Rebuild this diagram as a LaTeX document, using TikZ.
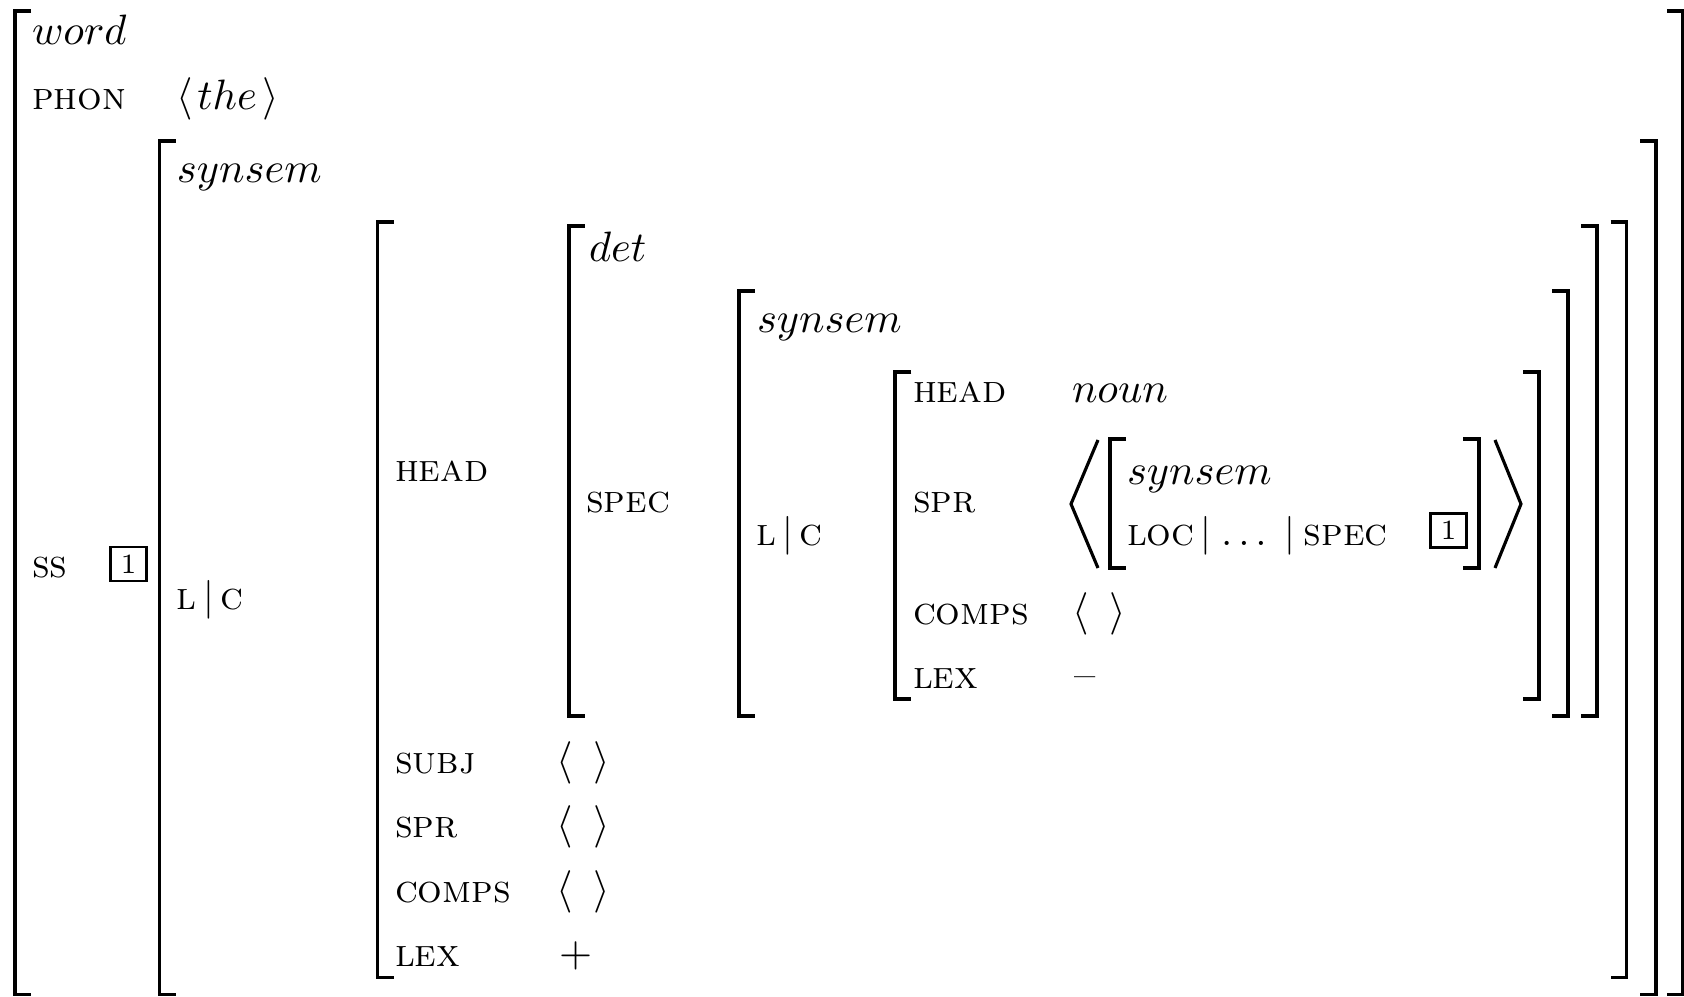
\documentclass[11pt,tikz,border=0pt]{standalone}
\begin{document}
\begin{tikzpicture}[x=0.25773pt,y=-0.25773pt,
  txt/.style={inner sep=0pt, outer sep=0pt, anchor=base west, font=\fontsize{10.95}{13.6}\selectfont},
  att/.style={inner sep=0pt, outer sep=0pt, anchor=base west, font=\fontsize{10}{12}\selectfont\scshape},
  brk/.style={line width=0.99pt, line cap=butt, line join=miter},
  ang/.style={line width=0.81pt, line cap=butt, line join=miter},
  tagbox/.style={draw, line width=0.72pt, inner sep=0pt, minimum width=9.3pt, minimum height=8.8pt, font=\fontsize{7.2}{8.6}\selectfont}]
\useasboundingbox (0,0) rectangle (1684,997);
\clip (0,0) rectangle (1684,997);
% left and right brackets: x, top, bottom
\newcommand\avmlb[3]{\draw[brk] (#1+16,#2) -- (#1,#2) -- (#1,#3) -- (#1+16,#3);}
\newcommand\avmrb[3]{\draw[brk] (#1-16,#2) -- (#1,#2) -- (#1,#3) -- (#1-16,#3);}
% outer word bracket
\avmlb{15}{11}{994.5}
\avmrb{1683}{11}{994.5}
% synsem bracket
\avmlb{159.5}{141}{994.5}
\avmrb{1656}{141}{994.5}
% L|C value bracket
\avmlb{377.5}{222.4}{977.5}
\avmrb{1626.5}{222}{977.5}
% det bracket
\avmlb{568.7}{226}{716.3}
\avmrb{1597.3}{225.7}{716.3}
% synsem (spec) bracket
\avmlb{738.7}{290.8}{716.3}
\avmrb{1568.3}{290.8}{716.3}
% inner L|C bracket
\avmlb{895.3}{372.3}{699}
\avmrb{1539.2}{372.3}{699}
% SPR list element bracket
\avmlb{1110}{439}{568.3}
\avmrb{1479}{439}{568.3}
% big angle brackets
\draw[ang] (1098,440) -- (1071,504) -- (1098,568);
\draw[ang] (1495,440) -- (1521,504) -- (1495,568);

% texts
\node[txt] (word) at (32,45) {$word$};
\node[att] (phon) at (32,110) {phon};
\node[txt] (the) at (177,110) {$\langle\kern1pt the\kern1.5pt\rangle$};
\node[att] (ss) at (32,578) {ss};
\node[tagbox] (tagA) at (128.5,564) {1};
\node[txt] (syn1) at (177,183) {$synsem$};
\node[att] (lc1) at (177,610) {l\,$|$\,c};
\node[att] (head1) at (395,482) {head};
\node[txt] (det) at (589,262) {$det$};
\node[att] (spec) at (586,513) {spec};
\node[txt] (syn2) at (757,333) {$synsem$};
\node[att] (lc2) at (756,546) {l\,$|$\,c};
\node[att] (head2) at (913,403) {head};
\node[txt] (noun) at (1072,403) {$noun$};
\node[att] (spr2) at (913,513) {spr};
\node[txt] (syn3) at (1127,485) {$synsem$};
\node[att] (locspec) at (1127,546) {loc\,$|$\,\kern0.8pt$\ldots$\kern3pt\,$|$\,\kern0.5pt spec};
\node[tagbox] (tagB) at (1448.5,530.5) {1};
\node[att] (comps2) at (913,625) {comps};
\node[txt] (compsv2) at (1072,625) {$\langle\ \,\rangle$};
\node[att] (lex2) at (913,689) {lex};
\node[txt] (lexv2) at (1074,689) {--};
\node[att] (subj1) at (395,774) {subj};
\node[txt] (subjv1) at (556,774) {$\langle\ \,\rangle$};
\node[att] (spr1) at (395,838) {spr};
\node[txt] (sprv1) at (556,838) {$\langle\ \,\rangle$};
\node[att] (comps1) at (395,903) {comps};
\node[txt] (compsv1) at (556,903) {$\langle\ \,\rangle$};
\node[att] (lex1) at (395,967) {lex};
\node[txt] (lexv1) at (559,967) {$+$};
\end{tikzpicture}
\end{document}
